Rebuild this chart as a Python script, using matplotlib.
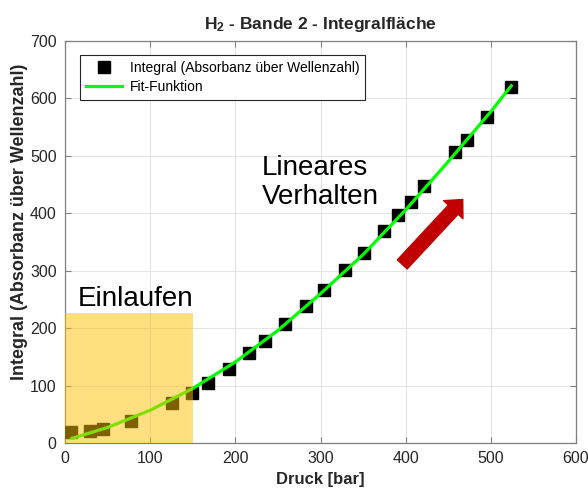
import matplotlib
matplotlib.use("Agg")
import matplotlib.pyplot as plt
from matplotlib.patches import Rectangle

plt.rcParams["font.family"] = ["Liberation Sans", "DejaVu Sans"]
plt.rcParams["mathtext.fontset"] = "custom"
plt.rcParams["mathtext.rm"] = "Liberation Sans"
plt.rcParams["mathtext.bf"] = "Liberation Sans:bold"

druck = [7, 29, 45, 78, 126, 149, 168, 192, 216, 235, 258, 283,
         304, 329, 351, 375, 391, 406, 422, 458, 472, 495, 524]
integral = [20, 21, 25, 39, 69, 87, 105, 129, 156, 178, 207, 238,
            267, 301, 331, 370, 397, 419, 447, 506, 528, 567, 620]

# fit curve
fit_x = [8, 50, 100, 150, 200, 250, 300, 350, 400, 450, 500, 524]
fit_y = [8, 27, 57, 95, 141, 196, 260, 328, 406, 490, 577, 622]

# highlighted run-in region and arrow
einlauf_x = (0, 150)
einlauf_y = (0, 226)
arrow_from = (396, 311)
arrow_to = (467, 424)

xticks = [0, 100, 200, 300, 400, 500, 600]
yticks = [0, 100, 200, 300, 400, 500, 600, 700]

fig = plt.figure(figsize=(5.88, 4.91), dpi=100)
ax = fig.add_axes([65 / 588, 48 / 491, 511 / 588, 402 / 491])

ax.grid(True, color="#e3e3e3", lw=0.8)
ax.set_axisbelow(True)

ax.plot(druck, integral, "s", color="black", ms=9, ls="none",
        label="Integral (Absorbanz über Wellenzahl)", zorder=3)
ax.plot(fit_x, fit_y, color="#00ff00", lw=2.3, label="Fit-Funktion", zorder=4)

ax.add_patch(Rectangle((einlauf_x[0], einlauf_y[0]), einlauf_x[1] - einlauf_x[0],
                       einlauf_y[1] - einlauf_y[0], facecolor="#ffc000",
                       alpha=0.5, edgecolor="none", zorder=5))

ax.annotate("", xy=arrow_to, xytext=arrow_from,
            arrowprops=dict(arrowstyle="simple,head_length=0.5,head_width=0.95,tail_width=0.48",
                            color="#c00000", mutation_scale=20, shrinkA=0, shrinkB=0),
            zorder=6)

ax.text(15, 238, "Einlaufen", fontsize=20, color="black", zorder=7)
ax.text(231, 416, "Lineares\nVerhalten", fontsize=20, color="black",
        linespacing=1.15, va="baseline", zorder=7)

ax.set_xlim(0, 600)
ax.set_ylim(0, 700)
ax.set_xticks(xticks)
ax.set_yticks(yticks)
ax.tick_params(direction="in", top=True, right=True, length=4, width=0.8,
               colors="#808080", labelcolor="#262626", labelsize=11.5, pad=6)
for s in ax.spines.values():
    s.set_color("#808080")
    s.set_linewidth(0.9)

ax.set_xlabel("Druck [bar]", fontsize=12, fontweight="bold", color="#262626", labelpad=4)
ax.set_ylabel("Integral (Absorbanz über Wellenzahl)", fontsize=13, fontweight="bold",
              color="#262626", labelpad=2)
ax.yaxis.set_label_coords(-0.073, 0.55)
ax.set_title(r"$\mathbf{H_2}$ - Bande 2 - Integralfläche", fontsize=12.5,
             fontweight="bold", color="#262626", pad=9)

leg = ax.legend(loc="upper left", bbox_to_anchor=(15 / 511, 1 - 14 / 402),
                borderaxespad=0, fontsize=10, frameon=True, fancybox=False,
                borderpad=0.4, handlelength=2.6, handletextpad=0.6, labelspacing=0.4)
leg.get_frame().set_edgecolor("#262626")
leg.get_frame().set_linewidth(0.8)
leg.get_frame().set_alpha(1)

fig.savefig("out.png", dpi=100)
